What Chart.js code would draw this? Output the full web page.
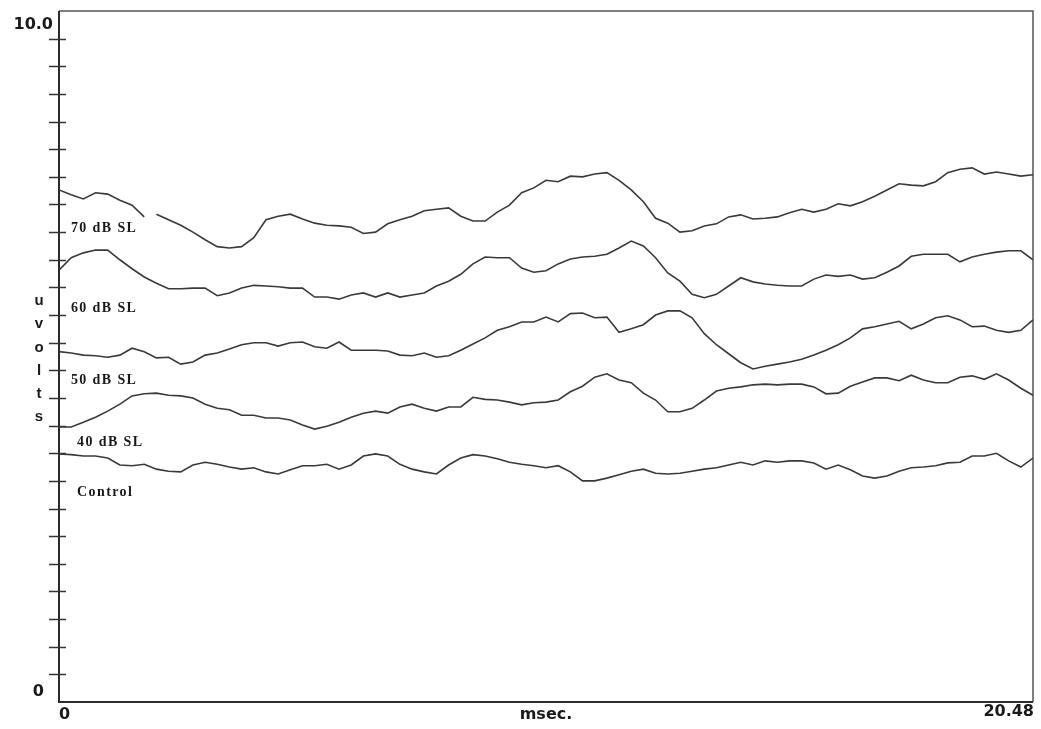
<!DOCTYPE html>
<html>
<head>
<meta charset="utf-8">
<title>Evoked responses</title>
<script src="https://cdn.jsdelivr.net/npm/chart.js@4/dist/chart.umd.min.js"></script>
<style>
    html, body { margin: 0; padding: 0; background: #ffffff; }
    #wrap { width: 1041px; height: 729px; }
</style>
</head>
<body>
<div id="wrap"><canvas id="evoked-chart" width="1041" height="729"></canvas></div>
<script>
// sweep time (msec), one sample every 0.256 ms
const times = [0, 0.256, 0.512, 0.768, 1.024, 1.28, 1.536, 1.792, 2.048, 2.304, 2.56, 2.816, 3.072, 3.328, 3.584, 3.84,
    4.096, 4.352, 4.608, 4.864, 5.12, 5.376, 5.632, 5.888, 6.144, 6.4, 6.656, 6.912, 7.168, 7.424, 7.68, 7.936,
    8.192, 8.448, 8.704, 8.96, 9.216, 9.472, 9.728, 9.984, 10.24, 10.496, 10.752, 11.008, 11.264, 11.52, 11.776, 12.032,
    12.288, 12.544, 12.8, 13.056, 13.312, 13.568, 13.824, 14.08, 14.336, 14.592, 14.848, 15.104, 15.36, 15.616, 15.872, 16.128,
    16.384, 16.64, 16.896, 17.152, 17.408, 17.664, 17.92, 18.176, 18.432, 18.688, 18.944, 19.2, 19.456, 19.712, 19.968, 20.224, 20.48];

// traces in uvolts (offset on the page)
const db70 = [7.41, 7.34, 7.28, 7.37, 7.35, 7.26, 7.19, 7.02, 7.06, 6.98, 6.90, 6.80, 6.69, 6.59, 6.57, 6.59,
    6.72, 6.98, 7.03, 7.06, 6.99, 6.93, 6.90, 6.89, 6.87, 6.78, 6.80, 6.92, 6.98, 7.03, 7.11, 7.13,
    7.15, 7.03, 6.96, 6.96, 7.09, 7.19, 7.37, 7.44, 7.55, 7.53, 7.61, 7.60, 7.64, 7.66, 7.55, 7.41,
    7.24, 7.00, 6.93, 6.80, 6.82, 6.89, 6.92, 7.02, 7.05, 6.99, 7.00, 7.02, 7.08, 7.13, 7.09, 7.13,
    7.21, 7.18, 7.24, 7.32, 7.41, 7.50, 7.48, 7.47, 7.53, 7.66, 7.71, 7.73, 7.64, 7.67, 7.64, 7.61, 7.63];
const db60 = [6.25, 6.43, 6.50, 6.54, 6.54, 6.40, 6.27, 6.15, 6.06, 5.98, 5.98, 5.99, 5.99, 5.88, 5.92, 5.99,
    6.03, 6.02, 6.01, 5.99, 5.99, 5.86, 5.86, 5.83, 5.89, 5.92, 5.86, 5.92, 5.86, 5.89, 5.92, 6.02,
    6.09, 6.19, 6.34, 6.44, 6.43, 6.43, 6.28, 6.22, 6.24, 6.34, 6.41, 6.44, 6.45, 6.48, 6.57, 6.67,
    6.60, 6.43, 6.21, 6.09, 5.90, 5.85, 5.90, 6.02, 6.14, 6.08, 6.05, 6.03, 6.02, 6.02, 6.12, 6.18,
    6.16, 6.18, 6.12, 6.14, 6.22, 6.31, 6.45, 6.48, 6.48, 6.48, 6.37, 6.44, 6.48, 6.51, 6.53, 6.53, 6.40];
const db50 = [5.07, 5.05, 5.02, 5.01, 4.99, 5.02, 5.12, 5.07, 4.98, 4.99, 4.89, 4.92, 5.02, 5.05, 5.11, 5.17,
    5.20, 5.20, 5.15, 5.20, 5.21, 5.14, 5.12, 5.21, 5.09, 5.09, 5.09, 5.08, 5.02, 5.01, 5.05, 4.99,
    5.01, 5.09, 5.18, 5.27, 5.38, 5.43, 5.50, 5.50, 5.57, 5.50, 5.62, 5.63, 5.56, 5.57, 5.35, 5.40,
    5.46, 5.60, 5.66, 5.66, 5.56, 5.33, 5.17, 5.04, 4.91, 4.82, 4.86, 4.89, 4.92, 4.96, 5.02, 5.09,
    5.17, 5.27, 5.40, 5.43, 5.47, 5.51, 5.40, 5.47, 5.56, 5.59, 5.53, 5.43, 5.44, 5.38, 5.35, 5.38, 5.53];
const db40 = [3.98, 3.98, 4.05, 4.12, 4.21, 4.31, 4.43, 4.46, 4.47, 4.44, 4.43, 4.40, 4.31, 4.25, 4.23, 4.15,
    4.15, 4.11, 4.11, 4.08, 4.01, 3.95, 3.99, 4.05, 4.12, 4.18, 4.21, 4.18, 4.27, 4.31, 4.25, 4.21,
    4.27, 4.27, 4.41, 4.38, 4.37, 4.34, 4.30, 4.33, 4.34, 4.37, 4.49, 4.57, 4.70, 4.75, 4.66, 4.62,
    4.47, 4.37, 4.20, 4.20, 4.25, 4.37, 4.50, 4.54, 4.56, 4.59, 4.60, 4.59, 4.60, 4.60, 4.56, 4.46,
    4.47, 4.57, 4.63, 4.69, 4.69, 4.65, 4.73, 4.66, 4.62, 4.62, 4.70, 4.72, 4.67, 4.75, 4.66, 4.54, 4.44];
const control = [3.59, 3.58, 3.56, 3.56, 3.53, 3.43, 3.42, 3.44, 3.37, 3.34, 3.33, 3.43, 3.47, 3.44, 3.40, 3.37,
    3.39, 3.33, 3.30, 3.36, 3.42, 3.42, 3.44, 3.37, 3.43, 3.56, 3.59, 3.56, 3.44, 3.37, 3.33, 3.30,
    3.43, 3.53, 3.58, 3.56, 3.52, 3.47, 3.44, 3.42, 3.39, 3.42, 3.33, 3.20, 3.20, 3.24, 3.29, 3.34,
    3.37, 3.31, 3.30, 3.31, 3.34, 3.37, 3.39, 3.43, 3.47, 3.43, 3.49, 3.47, 3.49, 3.49, 3.46, 3.37,
    3.43, 3.36, 3.27, 3.24, 3.27, 3.34, 3.39, 3.40, 3.42, 3.46, 3.47, 3.56, 3.56, 3.60, 3.49, 3.40, 3.53];

const seriesNames = ['70 dB SL', '60 dB SL', '50 dB SL', '40 dB SL', 'Control'];
// where each trace name sits, in [msec, uvolts]
const nameAnchors = [[0.25, 6.85], [0.25, 5.70], [0.25, 4.66], [0.38, 3.76], [0.38, 3.04]];

const xTickLabels = ['0', 'msec.', '20.48'];
const yTickLabels = ['0', '10.0'];
const yUnitLetters = ['u', 'v', 'o', 'l', 't', 's'];

const X_MAX = 20.48;
const Y_MAX = 10;
const Y_TICK_STEP = 0.4;
const PEN_GAP_70 = 7;   // pen lifts briefly on the 70 dB trace

document.addEventListener('DOMContentLoaded', function() {
    const colors = {
        trace: '#3a3a3a',
        frame: '#2b2b2b',
        text: '#1a1a1a'
    };

    const toPoints = vals => vals.map((v, i) => ({ x: times[i], y: v }));

    // frame, axis ticks and all the printed text
    const paperPlugin = {
        id: 'paper',
        beforeDatasetsDraw(chart) {
            const c = chart.ctx;
            const area = chart.chartArea;
            const ys = chart.scales.y;
            c.save();
            c.strokeStyle = '#555';
            c.lineWidth = 1.5;
            c.beginPath();
            c.moveTo(area.left, area.top);
            c.lineTo(area.right, area.top);
            c.lineTo(area.right, area.bottom);
            c.stroke();
            c.strokeStyle = colors.frame;
            c.lineWidth = 2;
            c.beginPath();
            c.moveTo(area.left, area.top);
            c.lineTo(area.left, area.bottom);
            c.lineTo(area.right, area.bottom);
            c.stroke();

            c.lineWidth = 1.5;
            c.strokeStyle = '#333';
            for (let v = Y_TICK_STEP; v < Y_MAX - 0.01; v += Y_TICK_STEP) {
                const py = Math.round(ys.getPixelForValue(v)) + 0.5;
                c.beginPath();
                c.moveTo(area.left - 10, py);
                c.lineTo(area.left + 7, py);
                c.stroke();
            }
            c.restore();
        },
        afterDraw(chart) {
            const c = chart.ctx;
            const area = chart.chartArea;
            const xs = chart.scales.x;
            const ys = chart.scales.y;
            c.save();
            c.fillStyle = colors.text;
            c.textBaseline = 'middle';

            // axis numbers
            c.font = 'bold 16px "DejaVu Sans"';
            c.textAlign = 'right';
            c.fillText(yTickLabels[1], area.left - 6, ys.getPixelForValue(Y_MAX) + 14);
            c.fillText(yTickLabels[0], area.left - 15, ys.getPixelForValue(0) - 10);
            c.textAlign = 'left';
            c.fillText(xTickLabels[0], xs.getPixelForValue(0), area.bottom + 13);
            c.textAlign = 'center';
            c.fillText(xTickLabels[1], xs.getPixelForValue(X_MAX / 2) - 0, area.bottom + 13);
            c.textAlign = 'right';
            c.fillText(xTickLabels[2], xs.getPixelForValue(X_MAX) + 1, area.bottom + 10);

            // stacked unit letters
            c.font = 'bold 15px "Liberation Sans"';
            c.textAlign = 'center';
            yUnitLetters.forEach((ch, i) => {
                c.fillText(ch, area.left - 20, 301 + i * 23.2);
            });

            // trace names
            c.font = 'bold 14px "Liberation Serif"';
            c.letterSpacing = '1.4px';
            c.textAlign = 'left';
            seriesNames.forEach((name, i) => {
                const a = nameAnchors[i];
                c.fillText(name, xs.getPixelForValue(a[0]), ys.getPixelForValue(a[1]));
            });
            c.restore();
        }
    };

    const traceStyle = {
        borderColor: colors.trace,
        borderWidth: 1.6,
        pointRadius: 0,
        tension: 0,
        fill: false
    };

    const ctx = document.getElementById('evoked-chart');
    new Chart(ctx, {
        type: 'line',
        data: {
            datasets: [
                Object.assign({ label: seriesNames[0], data: toPoints(db70),
                    segment: { borderColor: s => s.p0DataIndex === PEN_GAP_70 ? 'rgba(0,0,0,0)' : undefined } }, traceStyle),
                Object.assign({ label: seriesNames[1], data: toPoints(db60) }, traceStyle),
                Object.assign({ label: seriesNames[2], data: toPoints(db50) }, traceStyle),
                Object.assign({ label: seriesNames[3], data: toPoints(db40) }, traceStyle),
                Object.assign({ label: seriesNames[4], data: toPoints(control) }, traceStyle)
            ]
        },
        options: {
            responsive: false,
            animation: false,
            layout: {
                padding: { left: 59, right: 8, top: 11, bottom: 27 }
            },
            plugins: {
                legend: { display: false },
                tooltip: { enabled: false }
            },
            scales: {
                x: { type: 'linear', min: 0, max: X_MAX, display: false },
                y: { type: 'linear', min: 0, max: Y_MAX, display: false }
            }
        },
        plugins: [paperPlugin]
    });
});
</script>
</body>
</html>
